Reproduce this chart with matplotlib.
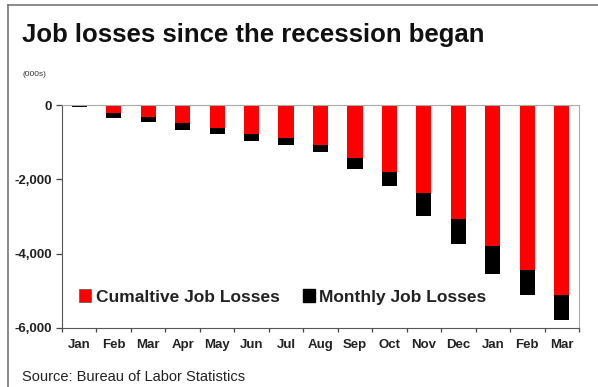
import numpy as np
import matplotlib.pyplot as plt
from matplotlib.patches import Patch
from matplotlib.lines import Line2D

plt.rcParams['font.family'] = ['Liberation Sans', 'DejaVu Sans']

# ---- data (000s) ----
months = ['Jan', 'Feb', 'Mar', 'Apr', 'May', 'Jun', 'Jul', 'Aug',
          'Sep', 'Oct', 'Nov', 'Dec', 'Jan', 'Feb', 'Mar']
cumulative = [0, -224, -313, -492, -609, -779, -895, -1074,
              -1415, -1790, -2372, -3062, -3805, -4449, -5121]
monthly = [-60, -126, -144, -179, -170, -179, -170, -188,
           -313, -376, -609, -671, -743, -654, -653]

fig = plt.figure(figsize=(5.98, 3.87), dpi=100)
ax = fig.add_axes([62 / 598, 1 - 328 / 387, (579 - 62) / 598, (328 - 105) / 387])

x = np.arange(len(months))
ax.bar(x, cumulative, width=0.44, color='#ff0000', edgecolor='none')
ax.bar(x, monthly, width=0.44, bottom=cumulative, color='#000000', edgecolor='none')

ax.set_xlim(-0.5, len(months) - 0.5)
ax.set_ylim(-6000, 0)
ax.set_yticks([0, -2000, -4000, -6000])
ax.set_yticklabels(['0', '-2,000', '-4,000', '-6,000'], fontsize=9.5, fontweight='bold',
                   color='#222222')
ax.set_xticks(x)
ax.set_xticklabels(months, fontsize=9.5, fontweight='bold', color='#222222')
ax.tick_params(axis='x', which='major', length=0, pad=8)
ax.set_xticks(np.arange(len(months) + 1) - 0.5, minor=True)
ax.tick_params(axis='x', which='minor', length=3, width=0.9, color='#444444')
ax.tick_params(axis='y', length=4, width=0.9, color='#444444', pad=3)

for side in ['top', 'right']:
    ax.spines[side].set_color('#aaaaaa')
for side in ['left', 'bottom']:
    ax.spines[side].set_color('#555555')

handles = [Patch(facecolor='#ff0000', edgecolor='#555555', linewidth=0.5),
           Patch(facecolor='#000000', edgecolor='#000000')]
ax.legend(handles, ['Cumaltive Job Losses', 'Monthly Job Losses'], ncol=2,
          loc='center left', bbox_to_anchor=(0.033, 0.139), frameon=False,
          prop={'size': 12.5, 'weight': 'bold'}, handlelength=0.7, handleheight=0.7,
          handletextpad=0.25, columnspacing=1.35, borderpad=0, borderaxespad=0,
          labelcolor='#222222')

fig.text(22 / 598, 1 - 35 / 387, 'Job losses since the recession began',
         fontsize=18.5, fontweight='bold', va='center', ha='left', color='#111111')
fig.text(22 / 598, 1 - 75 / 387, '(000s)', fontsize=6, va='center', ha='left',
         color='#333333')
fig.text(22 / 598, 1 - 377 / 387, 'Source: Bureau of Labor Statistics',
         fontsize=10.5, va='center', ha='left', color='#222222')

# outer frame (top and left edges)
fig.add_artist(Line2D([8 / 598, 8 / 598], [0, 1 - 5 / 387], transform=fig.transFigure,
                      color='#777777', linewidth=1.2))
fig.add_artist(Line2D([8 / 598, 1], [1 - 5 / 387, 1 - 5 / 387], transform=fig.transFigure,
                      color='#777777', linewidth=1.2))

fig.savefig('out.png', dpi=100)
